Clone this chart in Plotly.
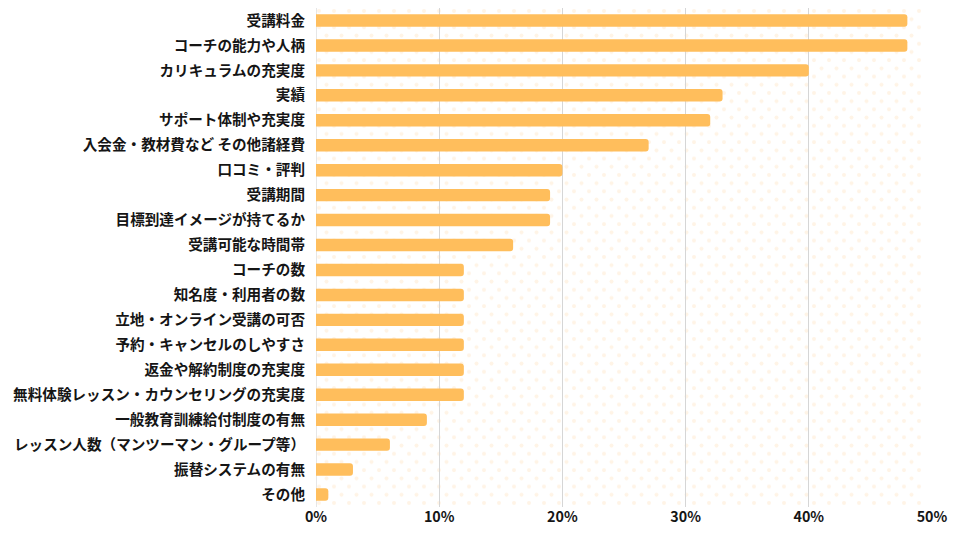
import base64
import plotly.graph_objects as go

categories = [
    "受講料金", "コーチの能力や人柄", "カリキュラムの充実度", "実績", "サポート体制や充実度",
    "入会金・教材費など その他諸経費", "口コミ・評判", "受講期間", "目標到達イメージが持てるか",
    "受講可能な時間帯", "コーチの数", "知名度・利用者の数", "立地・オンライン受講の可否",
    "予約・キャンセルのしやすさ", "返金や解約制度の充実度", "無料体験レッスン・カウンセリングの充実度",
    "一般教育訓練給付制度の有無", "レッスン人数（マンツーマン・グループ等）", "振替システムの有無", "その他",
]
values = [48, 48, 40, 33, 32, 27, 20, 19, 19, 16, 12, 12, 12, 12, 12, 12, 9, 6, 3, 1]
x_ticks = [0, 10, 20, 30, 40, 50]
x_tick_labels = ["0%", "10%", "20%", "30%", "40%", "50%"]

FONT = "Noto Sans CJK JP"
TEXT = "#151515"

svg = (
    '<svg xmlns="http://www.w3.org/2000/svg" width="616" height="499">'
    '<defs><pattern id="p" width="15" height="16.4" patternUnits="userSpaceOnUse">'
    '<circle cx="3" cy="3" r="2" fill="#FFF4E6"/>'
    '<circle cx="10.5" cy="11.2" r="2" fill="#FFF4E6"/>'
    '</pattern></defs>'
    '<rect x="0" y="0" width="606" height="499" fill="url(#p)"/></svg>'
)
src = "data:image/svg+xml;base64," + base64.b64encode(svg.encode()).decode()

fig = go.Figure(
    go.Bar(
        x=values,
        y=categories,
        orientation="h",
        marker=dict(color="#FFBE5C", cornerradius=3, line=dict(width=0)),
        width=0.5,
        hoverinfo="x+y",
    )
)

fig.update_layout(
    width=960,
    height=540,
    margin=dict(l=308, r=36, t=0, b=41),
    paper_bgcolor="white",
    plot_bgcolor="rgba(0,0,0,0)",
    showlegend=False,
    font=dict(family=FONT, size=14, color=TEXT, weight="bold"),
    images=[dict(
        source=src, xref="paper", yref="paper", x=0, y=1, sizex=1, sizey=1,
        xanchor="left", yanchor="top", sizing="stretch", layer="below",
    )],
    xaxis=dict(
        range=[0, 50],
        tickvals=x_ticks,
        ticktext=x_tick_labels,
        showgrid=True,
        gridcolor="#D6D6D6",
        gridwidth=1,
        zeroline=True,
        zerolinecolor="#E6E6E6",
        zerolinewidth=1,
        showline=False,
        ticks="",
        tickfont=dict(family=FONT, size=14.3, color=TEXT, weight="bold"),
        fixedrange=True,
        automargin=False,
    ),
    yaxis=dict(
        autorange="reversed",
        showgrid=False,
        showline=False,
        ticks="",
        ticklabelstandoff=10,
        tickfont=dict(family=FONT, size=14.6, color=TEXT, weight="bold"),
        fixedrange=True,
        automargin=False,
    ),
)

fig.write_html("out.html")
